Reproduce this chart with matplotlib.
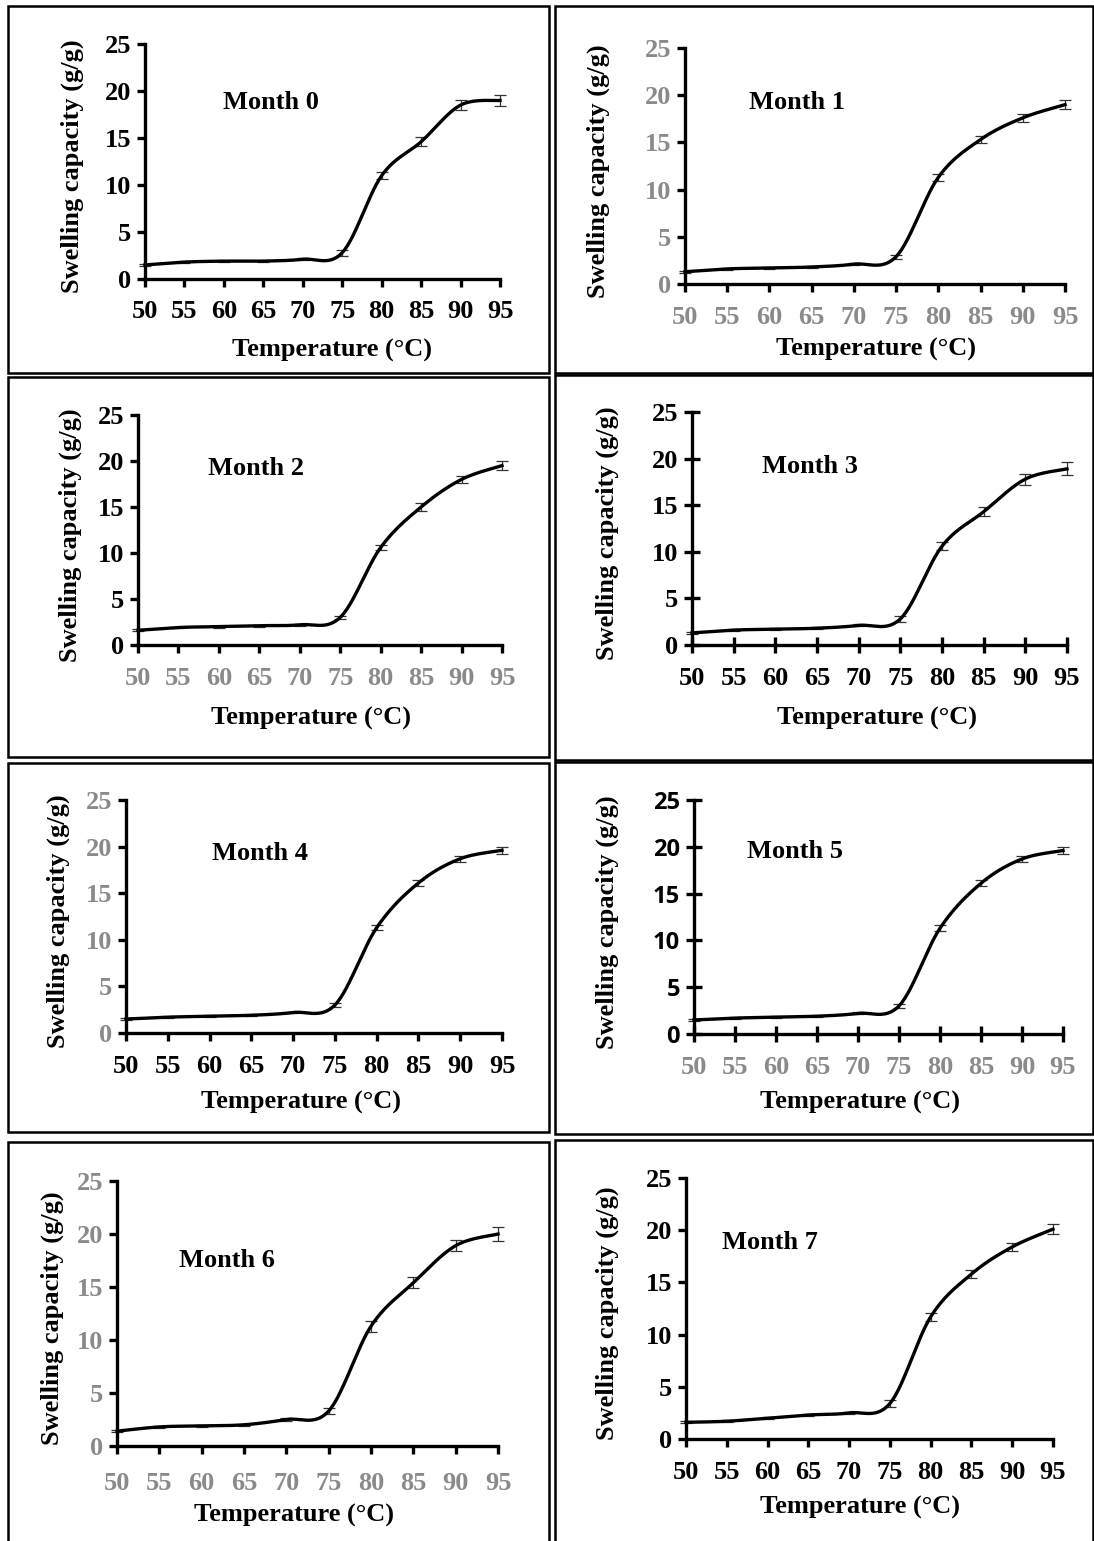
import numpy as np
import matplotlib.pyplot as plt
from matplotlib.patches import Rectangle

plt.rcParams['font.family'] = ['Liberation Serif', 'DejaVu Serif']
plt.rcParams['font.weight'] = 'bold'

temps = [50, 55, 60, 65, 70, 75, 80, 85, 90, 95]

month0 = [1.5, 1.8, 1.9, 1.9, 2.1, 2.8, 11.0, 14.6, 18.5, 19.0]
month1 = [1.3, 1.6, 1.7, 1.8, 2.1, 2.9, 11.3, 15.3, 17.6, 19.0]
month2 = [1.6, 1.9, 2.0, 2.1, 2.2, 3.0, 10.6, 15.0, 18.0, 19.5]
month3 = [1.3, 1.6, 1.7, 1.8, 2.1, 2.8, 10.6, 14.3, 17.8, 18.9]
month4 = [1.5, 1.7, 1.8, 1.9, 2.2, 3.0, 11.3, 16.1, 18.7, 19.6]
month5 = [1.5, 1.7, 1.8, 1.9, 2.2, 3.0, 11.3, 16.1, 18.7, 19.6]
month6 = [1.4, 1.8, 1.9, 2.0, 2.5, 3.3, 11.3, 15.4, 18.9, 20.0]
month7 = [1.6, 1.7, 2.0, 2.3, 2.5, 3.4, 11.7, 15.8, 18.4, 20.1]

err0 = [0.1, 0.1, 0.1, 0.1, 0.1, 0.3, 0.4, 0.5, 0.5, 0.6]
err1 = [0.1, 0.1, 0.1, 0.1, 0.1, 0.2, 0.4, 0.4, 0.4, 0.5]
err2 = [0.1, 0.1, 0.1, 0.1, 0.1, 0.2, 0.3, 0.4, 0.4, 0.5]
err3 = [0.1, 0.1, 0.1, 0.1, 0.1, 0.3, 0.4, 0.5, 0.6, 0.7]
err4 = [0.1, 0.1, 0.1, 0.1, 0.1, 0.2, 0.3, 0.3, 0.3, 0.4]
err5 = [0.1, 0.1, 0.1, 0.1, 0.1, 0.2, 0.3, 0.3, 0.3, 0.4]
err6 = [0.1, 0.1, 0.1, 0.1, 0.1, 0.3, 0.5, 0.5, 0.5, 0.7]
err7 = [0.1, 0.1, 0.1, 0.1, 0.1, 0.3, 0.4, 0.4, 0.4, 0.5]

series = [month0, month1, month2, month3, month4, month5, month6, month7]
errors = [err0, err1, err2, err3, err4, err5, err6, err7]
titles = ["Month 0", "Month 1", "Month 2", "Month 3",
          "Month 4", "Month 5", "Month 6", "Month 7"]

W, H = 1094, 1541
GREY = "#8a8a8a"
FS = 19

# pixel boxes of each plot area: left, right, top, bottom
axes_px = [(145, 500, 44, 279), (685, 1065, 48, 284),
           (138, 502, 415, 645), (692, 1067, 412, 645),
           (126, 502, 800, 1033), (694, 1063, 800, 1034),
           (117, 498, 1181, 1446), (686, 1053, 1178, 1439)]
# label text (x,y) in data coords
label_pos = [(66, 18.8), (63.3, 19.2), (64.6, 19.2), (64.2, 19.2),
             (66.0, 19.3), (62.3, 19.5), (63.0, 17.5), (60.3, 18.8)]
# ylabel x, xlabel (x, y) in pixels
ylab_x = [72, 598, 70, 607, 58, 607, 52, 607]
xlab_xy = [(332, 350), (876, 349), (311, 718), (877, 718),
           (301, 1102), (860, 1102), (294, 1515), (860, 1507)]
xpads = [9, 9.5, 10, 9.5, 9.5, 9.5, 13, 9.5]
# tick label colours (x, y)
tick_cols = [("black", "black"), (GREY, GREY), (GREY, "black"), ("black", "black"),
             ("black", GREY), (GREY, "black"), (GREY, GREY), ("black", "black")]
cross_ticks = [False, False, False, True, False, True, False, False]

# panel frames: x0, x1, y0, y1
frames = [(8, 549, 6, 373), (555, 1093, 6, 373),
          (8, 549, 377, 757), (555, 1093, 375, 760),
          (8, 549, 763, 1132), (555, 1093, 762, 1134),
          (8, 549, 1142, 1545), (555, 1093, 1140, 1545)]


def smooth(ax, xs, ys, n=30):
    # excel style smoothed line, done in pixel-like space
    bb = ax.get_window_extent()
    sx = bb.width / 45.0
    sy = bb.height / 25.0
    px = (np.array(xs, float) - 50) * sx
    py = np.array(ys, float) * sy
    P = np.column_stack([px, py])
    out = []
    for i in range(len(P) - 1):
        p0 = P[i - 1] if i > 0 else P[i]
        p3 = P[i + 2] if i + 2 < len(P) else P[i + 1]
        c1 = P[i] + (P[i + 1] - p0) / 6
        c2 = P[i + 1] - (p3 - P[i]) / 6
        t = np.linspace(0, 1, n)[:, None]
        seg = ((1 - t) ** 3) * P[i] + 3 * ((1 - t) ** 2) * t * c1 \
            + 3 * (1 - t) * t ** 2 * c2 + t ** 3 * P[i + 1]
        out.append(seg)
    out = np.vstack(out)
    return out[:, 0] / sx + 50, out[:, 1] / sy


fig = plt.figure(figsize=(W / 100, H / 100), dpi=100)

for k in range(8):
    l, r, t, b = axes_px[k]
    ax = fig.add_axes([l / W, 1 - b / H, (r - l) / W, (b - t) / H])
    ax.set_xlim(50, 95)
    ax.set_ylim(0, 25)
    ax.patch.set_alpha(0)
    for s in ["top", "right"]:
        ax.spines[s].set_visible(False)
    for s in ["left", "bottom"]:
        ax.spines[s].set_linewidth(2.4)
    ax.set_xticks(temps)
    ax.set_yticks([0, 5, 10, 15, 20, 25])

    xc, yc = tick_cols[k]
    direction = "inout" if cross_ticks[k] else "out"
    tl = 12 if cross_ticks[k] else 6
    ax.tick_params(axis="x", direction=direction, length=tl, width=2.4,
                   labelsize=FS, labelcolor=xc, pad=xpads[k])
    ax.tick_params(axis="y", direction=direction, length=tl, width=2.4,
                   labelsize=FS, labelcolor=yc, pad=4)
    if k == 5:
        for lab in ax.get_yticklabels():
            lab.set_family("Open Sans")
            lab.set_fontsize(17)

    sx, sy = smooth(ax, temps, series[k])
    ax.plot(sx, sy, color="black", lw=2.4, clip_on=False, zorder=3)
    ax.errorbar(temps, series[k], yerr=errors[k], fmt="none", ecolor="#333333",
                elinewidth=0.9, capsize=4, capthick=0.9, clip_on=False, zorder=2)

    ax.text(label_pos[k][0], label_pos[k][1], titles[k], ha="center", va="center",
            fontsize=FS, fontweight="bold")

    fig.text(ylab_x[k] / W, 1 - ((t + b) / 2 + 5) / H, "Swelling capacity (g/g)",
             rotation=90, ha="center", va="center", fontsize=FS, fontweight="bold")
    fig.text(xlab_xy[k][0] / W, 1 - xlab_xy[k][1] / H, "Temperature (°C)",
             ha="center", va="center", fontsize=FS, fontweight="bold")

for x0, x1, y0, y1 in frames:
    fig.add_artist(Rectangle((x0 / W, 1 - y1 / H), (x1 - x0) / W, (y1 - y0) / H,
                             transform=fig.transFigure, fill=False,
                             lw=1.8, edgecolor="black"))

fig.savefig("out.png", dpi=100)
